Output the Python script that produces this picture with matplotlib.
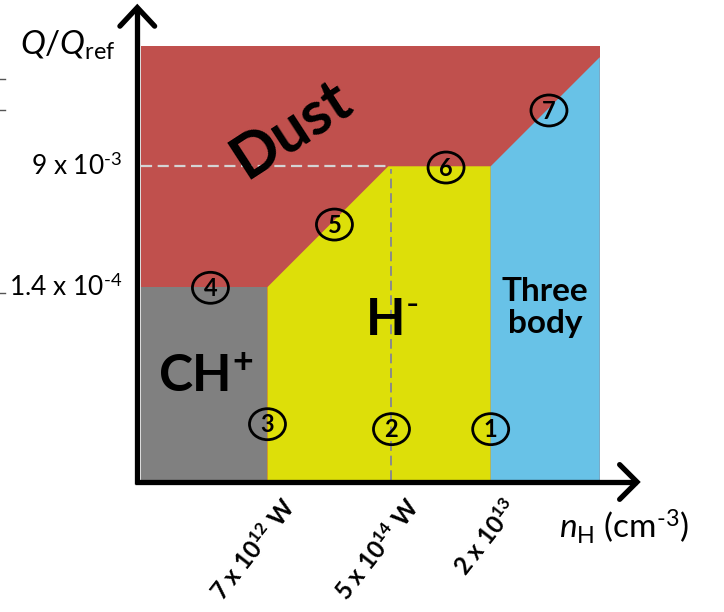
import matplotlib
matplotlib.use("Agg")
import matplotlib.pyplot as plt
from matplotlib.patches import Polygon, Rectangle, Ellipse

plt.rcParams['font.family'] = ['Lato', 'DejaVu Sans']
plt.rcParams['mathtext.fontset'] = 'custom'
plt.rcParams['mathtext.rm'] = 'Lato'
plt.rcParams['mathtext.it'] = 'Lato:italic'
plt.rcParams['mathtext.bf'] = 'Lato:bold'

# Schematic axes: density (x) and relative Q (y), arbitrary units
x_bounds = [1.02, 2.02, 2.82]          # CH+/H-, critical density, H-/three body
x_end = 3.7
x_labels = ['7 x 10$^{\\mathbf{12}}$ W', '5 x 10$^{\\mathbf{14}}$ W', '2 x 10$^{\\mathbf{13}}$']
q_levels = [1.556, 2.53]
q_labels = ['1.4 x 10$^{\\text{-4}}$', '9 x 10$^{\\text{-3}}$']
q_top = 3.5

regimes = ['Dust', 'CH$^{\\mathbf{+}}$', 'H$^{\\text{-}}$', 'Three\nbody']
regime_colors = ['#C0504D', '#808080', '#DDDF09', '#68C2E7']

point_ids = ['1', '2', '3', '4', '5', '6', '7']
point_x = [2.82, 2.02, 1.02, 0.56, 1.56, 2.46, 3.29]
point_y = [0.41, 0.41, 0.45, 1.55, 2.06, 2.52, 2.98]

fig = plt.figure(figsize=(7.24, 6.12), dpi=100)
ax = fig.add_axes([0, 0, 1, 1])
S = 124.0
ax.set_xlim(-141 / S, (724 - 141) / S)
ax.set_ylim((480 - 612) / S, 480 / S)
ax.set_aspect('auto')
ax.axis('off')

x1, x2, x3 = x_bounds
yl1, yl2 = q_levels
c_dust, c_ch, c_h, c_3b = regime_colors

# Regime areas
ax.add_patch(Rectangle((0, 0), x_end, q_top, fc=c_dust, ec='none', zorder=1))
ax.add_patch(Polygon([(0, 0), (x1, 0), (x1, yl1), (0, yl1)], closed=True,
                     fc=c_ch, ec='none', zorder=2))
x_knee = x1 + (yl2 - yl1)
ax.add_patch(Polygon([(x1, 0), (x3, 0), (x3, yl2), (x_knee, yl2), (x1, yl1)],
                     closed=True, fc=c_h, ec='none', zorder=2))
ax.add_patch(Polygon([(x3, 0), (x_end, 0), (x_end, yl2 + (x_end - x3)), (x3, yl2)],
                     closed=True, fc=c_3b, ec='none', zorder=2))

# Guide lines
ax.plot([0, x_knee], [yl2, yl2], color='#D4D4D4', lw=1.6, ls=(0, (5, 2.5)), zorder=3)
ax.plot([x2, x2], [0, yl2 - 0.02], color='#8A8A8A', lw=1.4, ls=(0, (5, 2.5)), zorder=3)

# Axes with open arrowheads
ax_x0 = -0.03
ax_y0 = -0.016
lw_axis = 3.8
ax.plot([ax_x0, ax_x0], [ax_y0 - 0.02, 3.8], color='black', lw=lw_axis,
        solid_capstyle='butt', zorder=5)
ax.plot([ax_x0 - 0.14, ax_x0, ax_x0 + 0.14], [3.66, 3.81, 3.66], color='black',
        lw=lw_axis, solid_capstyle='round', solid_joinstyle='miter', zorder=5)
ax.plot([ax_x0 - 0.02, 4.0], [ax_y0, ax_y0], color='black', lw=lw_axis,
        solid_capstyle='butt', zorder=5)
ax.plot([3.86, 4.0, 3.86], [ax_y0 + 0.14, ax_y0, ax_y0 - 0.14], color='black',
        lw=lw_axis, solid_capstyle='round', solid_joinstyle='miter', zorder=5)

# Stray tick marks at left
for yy in [3.23, 2.98, 1.51]:
    ax.plot([-141 / S, -136 / S], [yy, yy], color='#555555', lw=1.0, zorder=5)

# Axis labels
ax.text(68 / S - 141 / S, (480 - 45) / S, '$Q/Q_{\\mathrm{ref}}$', fontsize=24,
        ha='center', va='center', zorder=6)
ax.text((624 - 141) / S, (480 - 527) / S, '$n_{\\mathrm{H}}$ (cm$^{\\text{-3}}$)',
        fontsize=24, ha='center', va='center', zorder=6)

for yy, lab in zip(q_levels, q_labels):
    ax.text(-0.15, yy + 0.0, lab, fontsize=19, ha='right', va='center', zorder=6)

for xx, lab in zip(x_bounds, x_labels):
    ax.text(xx + 0.10, -0.115, lab, fontsize=17.5, fontweight='bold', rotation=52,
            rotation_mode='anchor', ha='right', va='top', zorder=6)

# Regime names
ax.text(1.21, 2.83, regimes[0], fontsize=44, fontweight='bold', rotation=33,
        ha='center', va='center', zorder=6)
ax.text(0.52, 0.83, regimes[1], fontsize=37, fontweight='bold',
        ha='center', va='center', zorder=6)
ax.text(2.02, 1.29, regimes[2], fontsize=37, fontweight='bold',
        ha='center', va='center', zorder=6)
ax.text(3.26, 1.39, regimes[3], fontsize=24, fontweight='bold', linespacing=1.15,
        ha='center', va='center', zorder=6)

# Numbered points
for pid, px, py in zip(point_ids, point_x, point_y):
    ax.add_patch(Ellipse((px, py), 36 / S, 31 / S, fc='none', ec='black', lw=2.0, zorder=7))
    ax.text(px, py - 0.005, pid, fontsize=17, fontweight='bold', ha='center',
            va='center', zorder=7)

fig.savefig('out.png', dpi=100)
